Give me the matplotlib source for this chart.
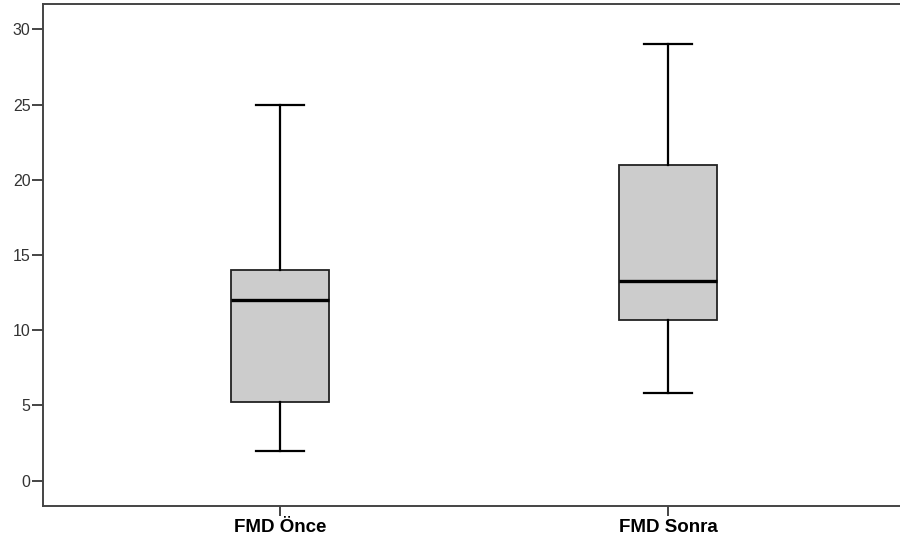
import matplotlib
matplotlib.use("Agg")
import matplotlib.pyplot as plt

# kutu grafiği değerleri (FMD öncesi / sonrası)
gruplar = ["FMD Önce", "FMD Sonra"]
alt_uc = [2.0, 5.8]
q1 = [5.25, 10.65]
medyan = [12.0, 13.3]
q3 = [14.0, 21.0]
ust_uc = [25.0, 29.0]
y_tikler = [0, 5, 10, 15, 20, 25, 30]

plt.rcParams['font.family'] = ['Liberation Sans', 'DejaVu Sans']

fig = plt.figure(figsize=(9, 5.47), dpi=100)
ax = fig.add_axes([43 / 900, 41 / 547, 864 / 900, 502 / 547])

istat = []
for i in range(len(gruplar)):
    istat.append({
        "label": gruplar[i],
        "whislo": alt_uc[i], "q1": q1[i], "med": medyan[i],
        "q3": q3[i], "whishi": ust_uc[i], "fliers": [],
    })

ax.bxp(istat, positions=[1, 2], widths=0.253, patch_artist=True,
       showfliers=False,
       boxprops=dict(facecolor="#cccccc", edgecolor="#222222", linewidth=1.3),
       medianprops=dict(color="black", linewidth=2.4),
       whiskerprops=dict(color="black", linewidth=1.6),
       capprops=dict(color="black", linewidth=1.6),
       capwidths=0.125)

ax.set_xlim(0.389, 2.616)
ax.set_ylim(-1.68, 31.68)
ax.set_yticks(y_tikler)
ax.set_xticks([1, 2])
ax.set_xticklabels(gruplar, fontsize=13.5, fontweight="bold")

for s in ax.spines.values():
    s.set_color("#444444")
    s.set_linewidth(1.4)
ax.spines["right"].set_visible(False)

ax.tick_params(axis="y", length=8, width=1.4, color="#444444",
               labelsize=11.5, labelcolor="#333333", pad=1)
ax.tick_params(axis="x", length=7, width=1.4, color="#444444", pad=2)

fig.savefig("out.png", dpi=100)
